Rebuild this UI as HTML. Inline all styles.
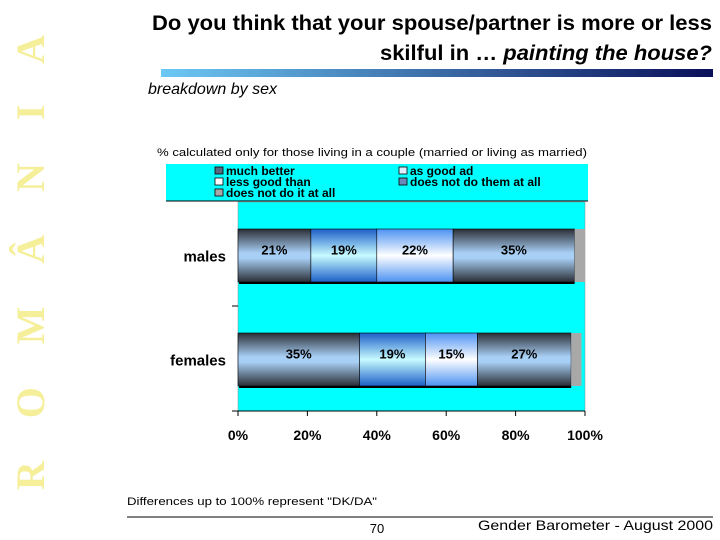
<!DOCTYPE html>
<html><head><meta charset="utf-8"><style>
body{margin:0;background:#fff}
svg{display:block;font-family:"Liberation Sans",Arial,sans-serif}
</style></head><body>
<svg id="c" width="720" height="540" viewBox="0 0 720 540">
<defs>
<linearGradient id="gDark" x1="0" y1="0" x2="0" y2="1">
<stop offset="0" stop-color="#2a2e36"/><stop offset="0.45" stop-color="#a8cff5"/><stop offset="0.55" stop-color="#a8cff5"/><stop offset="1" stop-color="#2a2e36"/></linearGradient>
<linearGradient id="gBlue" x1="0" y1="0" x2="0" y2="1">
<stop offset="0" stop-color="#1c5fc8"/><stop offset="0.5" stop-color="#c8fbff"/><stop offset="1" stop-color="#1c5fc8"/></linearGradient>
<linearGradient id="gWhite" x1="0" y1="0" x2="0" y2="1">
<stop offset="0" stop-color="#4c92f2"/><stop offset="0.5" stop-color="#ffffff"/><stop offset="1" stop-color="#4c92f2"/></linearGradient>
<linearGradient id="gRule" x1="0" y1="0" x2="1" y2="0">
<stop offset="0" stop-color="#6cc8f5"/><stop offset="1" stop-color="#0a0f5a"/></linearGradient>
</defs>
<text transform="translate(44,490) rotate(-90)" font-family="'Liberation Serif',serif" font-weight="bold" font-size="40" fill="#f5ef9a" textLength="455" lengthAdjust="spacing">R O M Â N I A</text>
<text x="712" y="30" text-anchor="end" font-weight="bold" font-size="21" textLength="560" lengthAdjust="spacingAndGlyphs">Do you think that your spouse/partner is more or less</text>
<text x="712" y="60" text-anchor="end" font-weight="bold" font-size="21" textLength="332" lengthAdjust="spacingAndGlyphs">skilful in … <tspan font-style="italic">painting the house?</tspan></text>
<rect x="161" y="69" width="552" height="8" fill="url(#gRule)"/>
<text x="148" y="94" font-style="italic" font-size="16">breakdown by sex</text>
<text x="157" y="156" font-size="11" textLength="430" lengthAdjust="spacingAndGlyphs">%  calculated only for those living in a couple (married or living as married)</text>
<rect x="166" y="164" width="422" height="37" fill="#00ffff"/>
<line x1="166" y1="201" x2="588" y2="201" stroke="#000" stroke-width="1"/>
<g id="legend" font-size="12" font-weight="bold"></g>
<rect x="238" y="202" width="347" height="209" fill="#00ffff" stroke="#888" stroke-width="0.5"/>
<g id="bars"></g>
<g id="axis"></g>
<text x="127" y="505" font-size="11" textLength="250" lengthAdjust="spacingAndGlyphs">Differences up to 100% represent "DK/DA"</text>
<line x1="127" y1="517" x2="713" y2="517" stroke="#000" stroke-width="1"/>
<text x="377" y="533" text-anchor="middle" font-size="13">70</text>
<text x="713" y="530" text-anchor="end" font-size="14" textLength="235" lengthAdjust="spacingAndGlyphs">Gender Barometer - August 2000</text>
</svg>
<script>
const categories = ["males", "females"];
const muchBetter = [21, 35];
const asGood = [19, 19];
const lessGood = [22, 15];
const doesNotDoThem = [35, 27];
const doesNotDoIt = [3, 3];
const ticks = [0, 20, 40, 60, 80, 100];
const legendLabels = ["much better","as good ad","less good than","does not do them at all","does not do it at all"];

const NS = "http://www.w3.org/2000/svg";
const X0 = 238, X1 = 585;
const x = v => X0 + (X1 - X0) * v / 100;
const rowY = i => [229, 333][i];
const BH = 53;
function mk(tag, attrs, parent){const e=document.createElementNS(NS,tag);for(const k in attrs)e.setAttribute(k,attrs[k]);parent.appendChild(e);return e;}
const bars = document.getElementById('bars');
const series = [[muchBetter,"url(#gDark)",true],[asGood,"url(#gBlue)",true],[lessGood,"url(#gWhite)",true],[doesNotDoThem,"url(#gDark)",true],[doesNotDoIt,"#a8a8a8",false]];
categories.forEach((cat,i)=>{
  const y = rowY(i);
  const lab = mk('text',{x:226,y:y+BH/2+6,'text-anchor':'end','font-size':15,'font-weight':'bold'},bars);
  lab.textContent = cat;
  
  
  let acc = 0;
  series.forEach((s,j)=>{
    const v = s[0][i];
    const r = mk('rect',{x:x(acc),y:y,width:x(acc+v)-x(acc),height:BH,fill:s[1],stroke:j<4?'#000':'none','stroke-width':0.6},bars);
    
    
    if(s[2]){
      const t = mk('text',{x:(x(acc)+x(acc+v))/2,y:y+BH/2-1,'text-anchor':'middle','font-size':13,'font-weight':'bold'},bars);
      t.textContent = v+'%';
      
      
    }
    acc += v;
  });
  const sh = mk('line',{x1:X0+1,y1:y+BH+1,x2:x(acc-doesNotDoIt[i]),y2:y+BH+1,stroke:'#000','stroke-width':2},bars);
  
  
});
mk('line',{x1:232,y1:306,x2:238,y2:306,stroke:'#000'},bars);
const axis = document.getElementById('axis');
mk('line',{x1:232,y1:411,x2:X1,y2:411,stroke:'#000'},axis);
ticks.forEach(t=>{
  mk('line',{x1:x(t),y1:411,x2:x(t),y2:416,stroke:'#000'},axis);
  const tl = mk('text',{x:x(t),y:440,'text-anchor':'middle','font-size':14,'font-weight':'bold'},axis);
  tl.textContent = t+'%';
  
  
});
const lg = document.getElementById('legend');
const lpos = [[228,175],[412,175],[228,186],[412,186],[228,197]];
const lfill = ["#5a6a80","#ddeeff","#ffffff","#6a88b8","#a8a8a8"];
legendLabels.forEach((l,i)=>{
  const [lx,ly] = lpos[i];
  const sw = mk('rect',{x:lx-13,y:ly-8,width:8,height:7,fill:lfill[i],stroke:'#000','stroke-width':0.8},lg);
  
  
  const t = mk('text',{x:lx-2,y:ly},lg);
  t.textContent = l;
  
  
});
</script>
</body></html>
